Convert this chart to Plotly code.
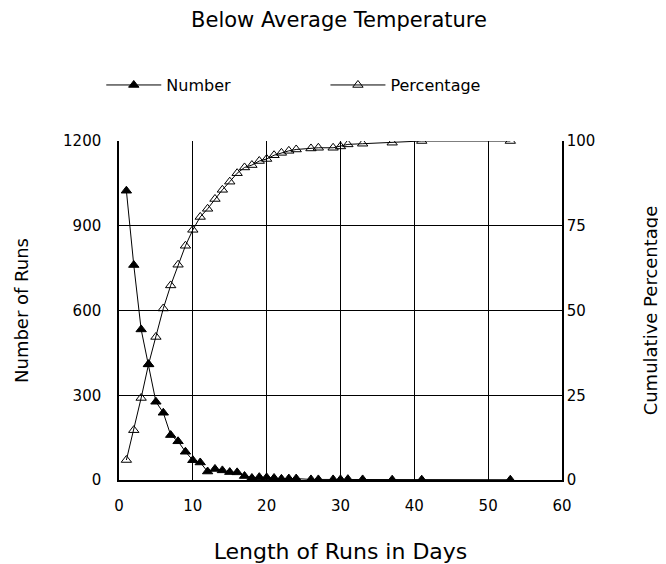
import plotly.graph_objects as go

days = [1, 2, 3, 4, 5, 6, 7, 8, 9, 10, 11, 12, 13, 14, 15, 16, 17, 18, 19, 20,
        21, 22, 23, 24, 26, 27, 29, 30, 31, 33, 37, 41, 53]
number = [1024, 761, 533, 410, 277, 238, 159, 137, 100, 70, 62, 30, 39, 34, 28, 27, 14, 7, 10, 9,
          7, 4, 5, 5, 2, 2, 2, 2, 3, 2, 1, 1, 1]
percentage = [5.9, 14.7, 24.2, 34.1, 42.2, 50.6, 57.4, 63.5, 69.1, 73.8, 77.6, 80.0, 82.9, 85.6, 88.0,
              90.5, 92.2, 92.9, 94.1, 94.7, 95.8, 96.5, 97.1, 97.5, 97.8, 98.0, 98.0, 98.4, 99.0,
              99.2, 99.5, 100.0, 100.0]

FONT = "DejaVu Sans, Verdana, sans-serif"

fig = go.Figure()
fig.add_trace(go.Scatter(
    x=days, y=number, name="Number", mode="lines+markers",
    line=dict(color="black", width=1),
    marker=dict(symbol="triangle-up", size=9, color="black", line=dict(color="black", width=1)),
    yaxis="y", legend="legend"))
fig.add_trace(go.Scatter(
    x=days, y=percentage, name="Percentage", mode="lines+markers",
    line=dict(color="black", width=1),
    marker=dict(symbol="triangle-up-open", size=9, color="black", line=dict(color="black", width=1)),
    yaxis="y2", legend="legend2"))

axis_common = dict(showline=True, linecolor="black", linewidth=1.5, mirror=False,
                   ticks="", tickfont=dict(size=15, color="black", family=FONT),
                   zeroline=False)

legend_common = dict(orientation="h", xanchor="left", y=1.165, yanchor="middle",
                     font=dict(size=16, family=FONT, color="black"),
                     itemwidth=55, bgcolor="rgba(0,0,0,0)")

fig.update_layout(
    width=666, height=564,
    paper_bgcolor="white", plot_bgcolor="white",
    margin=dict(l=108, r=112, t=133, b=87),
    font=dict(family=FONT, color="black"),
    title=dict(text="Below Average Temperature", x=0.497, xanchor="center",
               y=1 - 12 / 564, yanchor="middle", yref="container",
               font=dict(size=21, family=FONT, color="black")),
    showlegend=True,
    legend=dict(x=-0.040, **legend_common),
    legend2=dict(x=0.466, **legend_common),
    xaxis=dict(range=[0, 60], dtick=10, tick0=0, showgrid=True, gridcolor="black", gridwidth=1,
               ticklabelstandoff=11,
               title=dict(text="Length of Runs in Days", font=dict(size=22, family=FONT, color="black"),
                          standoff=30),
               **axis_common),
    yaxis=dict(range=[0, 1200], dtick=300, tick0=0, showgrid=True, gridcolor="black", gridwidth=1,
               ticklabelstandoff=13,
               title=dict(text="Number of Runs", font=dict(size=18, family=FONT, color="black"),
                          standoff=30),
               **axis_common),
    yaxis2=dict(range=[0, 100], dtick=25, tick0=0, overlaying="y", side="right", showgrid=False,
                ticklabelstandoff=0,
                title=dict(text="Cumulative Percentage", font=dict(size=18, family=FONT, color="black"),
                           standoff=50),
                **axis_common),
)

fig.write_html("out.html")
